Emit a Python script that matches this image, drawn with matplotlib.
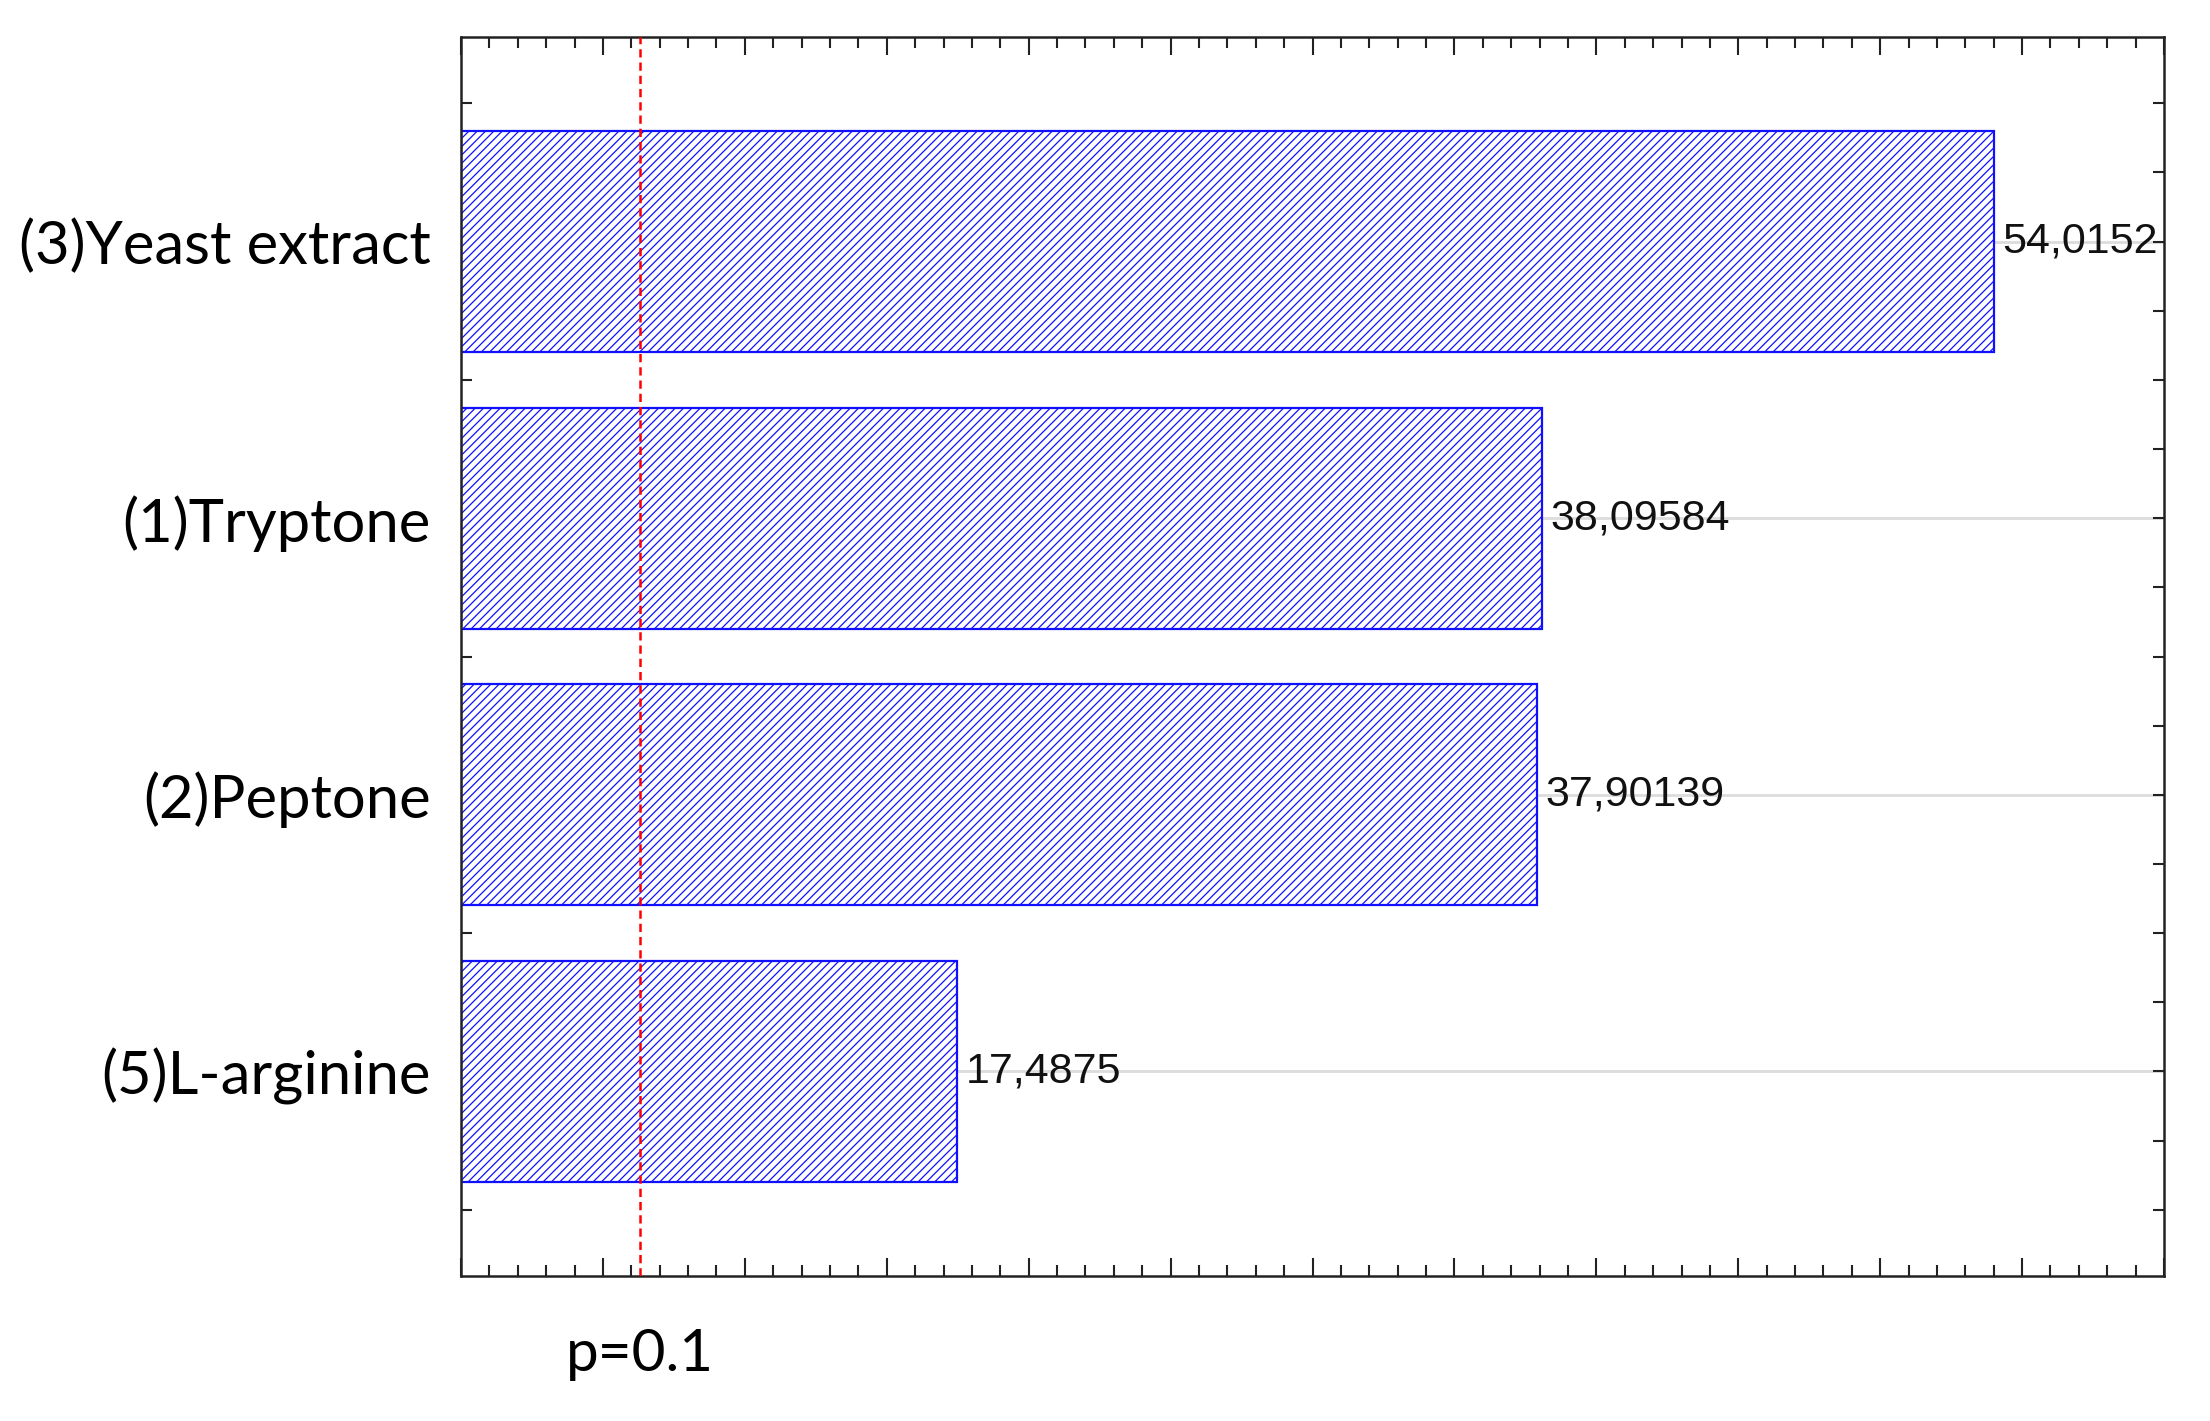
import matplotlib
matplotlib.use("Agg")
import matplotlib.pyplot as plt
from matplotlib.ticker import MultipleLocator
from matplotlib import font_manager as fm

# Pareto chart of standardized effects
factors = ["(3)Yeast extract", "(1)Tryptone", "(2)Peptone", "(5)L-arginine"]
effects = [54.0152, 38.09584, 37.90139, 17.4875]
p_line = 6.314   # t-value for p=0.1
p_label = "p=0.1"

names = {f.name for f in fm.fontManager.ttflist}
lab_font = "Lato" if "Lato" in names else "DejaVu Sans"
num_font = "Liberation Sans Narrow" if "Liberation Sans Narrow" in names else "Liberation Sans"
num_size = 37 if num_font == "Liberation Sans Narrow" else 31

plt.rcParams['hatch.linewidth'] = 0.9
plt.rcParams['hatch.color'] = '#3a3aff'

fig = plt.figure(figsize=(22.1, 14.21), dpi=100)
ax = fig.add_axes([0.2086, 0.102, 0.7706, 0.872])

pos = list(range(len(factors)))
ax.grid(axis='y', color='#dcdcdc', linestyle='-', linewidth=2, zorder=0)
bars = ax.barh(pos, effects, height=0.8, color='white', edgecolor='#1010ff',
               hatch='////', linewidth=1.6, zorder=2)

for y, v in zip(pos, effects):
    ax.text(v + 0.3, y, str(v).replace('.', ','), va='center', ha='left',
            fontsize=num_size, family=num_font, color='#111111', zorder=3)

ax.axvline(p_line, color='red', linestyle=(0, (3.3, 2)), linewidth=1.8, zorder=4)
ax.text(p_line, -0.042, p_label, transform=ax.get_xaxis_transform(),
        ha='center', va='top', fontsize=42, family=lab_font)

ax.set_xlim(0, 60)
ax.set_ylim(3.74, -0.74)
ax.xaxis.set_major_locator(MultipleLocator(5))
ax.xaxis.set_minor_locator(MultipleLocator(1))
ax.set_yticks(pos)
ax.yaxis.set_minor_locator(MultipleLocator(0.25))
ax.set_yticklabels(factors, fontsize=43, family=lab_font)
ax.set_xticklabels([])

ax.tick_params(axis='both', which='both', direction='in', top=True, right=True,
               width=1.5, color='#222222')
ax.tick_params(axis='x', which='major', length=13)
ax.tick_params(axis='x', which='minor', length=8)
ax.tick_params(axis='y', which='both', length=8, pad=22)
for s in ax.spines.values():
    s.set_linewidth(1.8)
    s.set_color('#222222')

fig.savefig("out.png", dpi=100)
